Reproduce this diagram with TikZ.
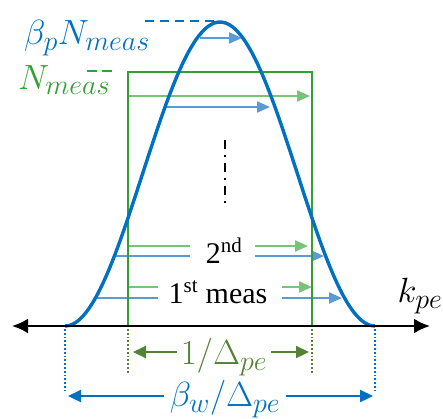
\RequirePackage{fix-cm}
\documentclass[tikz,border=0pt]{standalone}
\usepackage{amsmath,amssymb}
\usepackage{fontspec}
\setmainfont{Liberation Serif}
\usetikzlibrary{arrows.meta}
\DeclareMathSizes{35}{35}{28}{20}
\definecolor{curveblue}{RGB}{0,112,192}
\definecolor{lightblue}{RGB}{91,155,213}
\definecolor{boxgreen}{RGB}{50,160,50}
\definecolor{lightgreen}{RGB}{120,195,120}
\definecolor{darkgreen}{RGB}{84,130,53}

\tikzset{
  bluearrow/.style={lightblue, line width=2.2pt, -{Triangle[length=13pt,width=11pt]}},
  greenarrow/.style={lightgreen, line width=2.2pt, -{Triangle[length=13pt,width=11pt]}},
  blueline/.style={lightblue, line width=2.2pt},
  greenline/.style={lightgreen, line width=2.2pt},
  mathlabel/.style={inner sep=0pt, font=\fontsize{35}{40}\selectfont},
  textlabel/.style={inner sep=0pt, font=\fontsize{30}{34}\selectfont}
}

\begin{document}
\begin{tikzpicture}[x=1pt,y=-1pt]
\useasboundingbox (0,0) rectangle (443,418);

% measurement arrows
\coordinate (top1s) at (200,38);  \coordinate (top1e) at (242,38);
\coordinate (top2s) at (128,96);  \coordinate (top2e) at (310,96);
\coordinate (top3s) at (165,107); \coordinate (top3e) at (270,107);
\draw[bluearrow] (top1s) -- (top1e);
\draw[greenarrow] (top2s) -- (top2e);
\draw[bluearrow] (top3s) -- (top3e);

\node[textlabel] (second) at (224,251) {2\textsuperscript{nd}};
\coordinate (sgl) at (128,246); \coordinate (sgr) at (308,246);
\coordinate (sbl) at (115,256); \coordinate (sbr) at (324,256);
\draw[greenline] (sgl) -- (190,246);
\draw[greenarrow] (255,246) -- (sgr);
\draw[blueline] (sbl) -- (190,256);
\draw[bluearrow] (255,256) -- (sbr);

\node[textlabel] (first) at (218,292) {1\textsuperscript{st} meas};
\coordinate (fgl) at (128,287); \coordinate (fgr) at (312,287);
\coordinate (fbl) at (96,298);  \coordinate (fbr) at (342,298);
\draw[greenline] (fgl) -- (158,287);
\draw[greenarrow] (282,287) -- (fgr);
\draw[blueline] (fbl) -- (158,298);
\draw[bluearrow] (282,298) -- (fbr);

% dots
\coordinate (dota) at (225,140); \coordinate (dotb) at (225,206);
\draw[line width=2pt, dash pattern=on 9pt off 6pt on 2pt off 6pt] (dota) -- (dotb);

% box and curve
\coordinate (boxa) at (128,72); \coordinate (boxb) at (312,326);
\draw[boxgreen, line width=2.5pt] (boxa) rectangle (boxb);
\draw[curveblue, line width=3.4pt] plot[domain=65:375, samples=90, smooth] (\x, {326-152*(1+cos(1.1613*(\x-220)))});

% axis
\coordinate (axl) at (12,326); \coordinate (axr) at (430,326);
\draw[line width=2.4pt, {Latex[length=16pt,width=15pt]}-{Latex[length=16pt,width=15pt]}] (axl) -- (axr);
\node[mathlabel] (kpe) at (420,296) {$k_{pe}$};

% level labels
\node[mathlabel, curveblue] (peak) at (87,38) {$\beta_p N_{meas}$};
\draw[curveblue, line width=2pt, dash pattern=on 9pt off 6pt] (145,21) -- (220,21);
\node[mathlabel, boxgreen] (nmeas) at (64,80) {$N_{meas}$};
\draw[boxgreen, line width=2pt, dash pattern=on 10pt off 5pt] (87,71) -- (116,71);

% widths
\coordinate (gda) at (128,329); \coordinate (gdb) at (128,373);
\coordinate (gdc) at (312,329); \coordinate (gdd) at (312,373);
\draw[darkgreen, line width=1.8pt, dotted] (gda) -- (gdb);
\draw[darkgreen, line width=1.8pt, dotted] (gdc) -- (gdd);
\node[mathlabel, darkgreen] (inner) at (224,357) {$1/\Delta_{pe}$};
\coordinate (gtl) at (133,352); \coordinate (gtr) at (309,352);
\draw[darkgreen, line width=2.2pt, -{Triangle[length=13pt,width=12pt]}] ([xshift=-4pt]inner.west |- gtl) -- (gtl);
\draw[darkgreen, line width=2.2pt, -{Triangle[length=13pt,width=12pt]}] ([xshift=4pt]inner.east |- gtr) -- (gtr);

\coordinate (bda) at (65,329); \coordinate (bdb) at (65,390);
\coordinate (bdc) at (375,329); \coordinate (bdd) at (375,390);
\draw[curveblue, line width=1.8pt, dotted] (bda) -- (bdb);
\draw[curveblue, line width=1.8pt, dotted] (bdc) -- (bdd);
\node[mathlabel, curveblue] (outer) at (225,399) {$\beta_w/\Delta_{pe}$};
\coordinate (btl) at (68,396); \coordinate (btr) at (373,396);
\draw[curveblue, line width=2.2pt, -{Triangle[length=13pt,width=12pt]}] ([xshift=-6pt]outer.west |- btl) -- (btl);
\draw[curveblue, line width=2.2pt, -{Triangle[length=13pt,width=12pt]}] ([xshift=6pt]outer.east |- btr) -- (btr);
\end{tikzpicture}
\end{document}
